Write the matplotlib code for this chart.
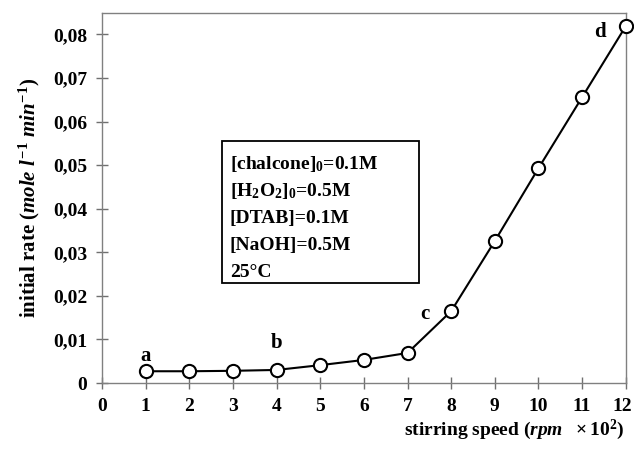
import matplotlib.pyplot as plt
from matplotlib.patches import Rectangle
from matplotlib.transforms import ScaledTranslation

plt.rcParams['font.family'] = ['Liberation Serif', 'DejaVu Serif']
plt.rcParams['font.weight'] = 'bold'
plt.rcParams['mathtext.fontset'] = 'custom'
plt.rcParams['mathtext.rm'] = 'Liberation Serif:bold'
plt.rcParams['mathtext.it'] = 'Liberation Serif:italic:bold'
plt.rcParams['mathtext.bf'] = 'Liberation Serif:bold'

# stirring speed (rpm x 10^2) and initial rate
speed = [1, 2, 3, 4, 5, 6, 7, 8, 9, 10, 11, 12]
rate = [0.0027, 0.0027, 0.0028, 0.0030, 0.0041, 0.0053, 0.0069,
        0.0165, 0.0326, 0.0493, 0.0656, 0.0819]

point_labels = ['a', 'b', 'c', 'd']
label_x = [1.0, 4.0, 7.4, 11.4]
label_y = [0.0038, 0.0068, 0.0135, 0.0782]

conditions = ['[chalcone]$_0$=0.1M',
              '[H$_2$O$_2$]$_0$=0.5M',
              '[DTAB]=0.1M',
              '[NaOH]=0.5M',
              '25°C']

fig = plt.figure(figsize=(6.34, 4.53), dpi=100)
ax = fig.add_axes([0.161, 0.1545, 0.826, 0.8165])

ax.plot(speed, rate, color='black', linewidth=1.5, marker='o', markersize=9.5,
        markerfacecolor='white', markeredgecolor='black', markeredgewidth=1.5,
        clip_on=False, zorder=3)

for lab, lx, ly in zip(point_labels, label_x, label_y):
    ax.text(lx, ly, lab, fontsize=15, fontweight='bold', ha='center', va='bottom')

# conditions box, one line every 0.0062 in y
ax.add_patch(Rectangle((2.75, 0.0229), 4.51, 0.0326, facecolor='white',
                       edgecolor='black', linewidth=1.3, zorder=2))
for i, line in enumerate(conditions):
    ax.text(2.93, 0.0491 - i * 0.0062, line, fontsize=14, fontweight='bold',
            va='baseline', ha='left', zorder=3)

ax.set_xlim(0, 12)
ax.set_ylim(0, 0.0849)
ax.set_xticks(range(0, 13))
ax.set_yticks([0, 0.01, 0.02, 0.03, 0.04, 0.05, 0.06, 0.07, 0.08])
ax.set_yticklabels(['0', '0,01', '0,02', '0,03', '0,04', '0,05', '0,06', '0,07', '0,08'])
ax.tick_params(direction='inout', length=9, width=1, color='#707070',
               labelsize=14, pad=6)
for lbl in ax.get_xticklabels() + ax.get_yticklabels():
    lbl.set_fontweight('bold')
last = ax.get_xticklabels()[-1]
last.set_transform(last.get_transform() + ScaledTranslation(-4 / 100, 0, fig.dpi_scale_trans))
for sp in ax.spines.values():
    sp.set_color('#808080')
    sp.set_linewidth(1)

ax.set_ylabel('initial rate $(mole\\ l^{-1}\\ min^{-1})$', fontsize=15,
              fontweight='bold', labelpad=8)
fig.text(0.985, 0.025, 'stirring speed $(rpm\\ \\ \\times 10^{2})$', fontsize=14,
         fontweight='bold', ha='right', va='bottom')

fig.savefig('out.png', dpi=100)
